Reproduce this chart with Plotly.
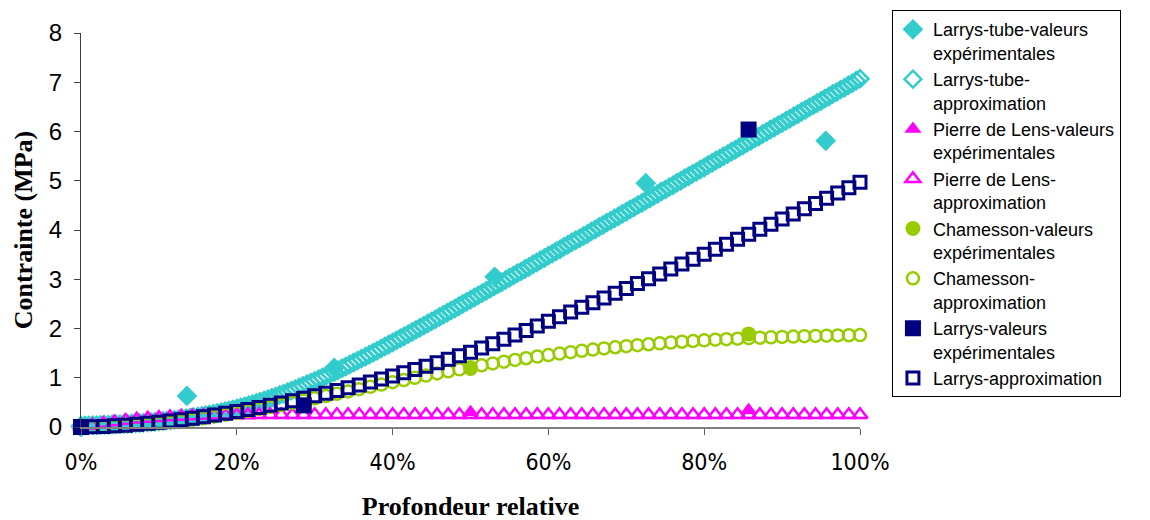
import plotly.graph_objects as go

# ---------------- data ----------------
# Experimental points (relative depth, stress MPa)
tube_exp_x = [0.0, 0.136, 0.325, 0.531, 0.725, 0.956]
tube_exp_y = [0.0, 0.63, 1.20, 3.05, 4.95, 5.81]

pdl_exp_x = [0.0, 0.5, 0.857]
pdl_exp_y = [0.0, 0.30, 0.34]

cham_exp_x = [0.0, 0.143, 0.5, 0.857]
cham_exp_y = [0.0, -0.03, 1.19, 1.89]

larrys_exp_x = [0.0, 0.286, 0.857]
larrys_exp_y = [0.0, 0.44, 6.04]

# Approximation curves
tube_approx_y = [
    0.029, 0.031, 0.033, 0.036, 0.038, 0.041, 0.044, 0.047, 0.050, 0.054,
    0.058, 0.062, 0.066, 0.071, 0.076, 0.081, 0.087, 0.093, 0.099, 0.106,
    0.113, 0.120, 0.129, 0.137, 0.146, 0.156, 0.166, 0.177, 0.188, 0.200,
    0.212, 0.226, 0.239, 0.254, 0.269, 0.285, 0.302, 0.320, 0.338, 0.357,
    0.377, 0.397, 0.419, 0.441, 0.464, 0.488, 0.513, 0.538, 0.564, 0.592,
    0.619, 0.648, 0.677, 0.707, 0.738, 0.769, 0.801, 0.834, 0.867, 0.901,
    0.936, 0.971, 1.006, 1.043, 1.079, 1.116, 1.154, 1.192, 1.230, 1.269,
    1.308, 1.348, 1.388, 1.428, 1.468, 1.509, 1.550, 1.591, 1.633, 1.675,
    1.717, 1.759, 1.801, 1.844, 1.886, 1.929, 1.972, 2.015, 2.058, 2.102,
    2.145, 2.189, 2.233, 2.277, 2.320, 2.364, 2.408, 2.452, 2.496, 2.540,
    2.585, 2.629, 2.673, 2.718, 2.762, 2.806, 2.851, 2.896, 2.940, 2.985,
    3.029, 3.074, 3.12, 3.16, 3.21, 3.25, 3.30, 3.34, 3.39, 3.43,
    3.48, 3.52, 3.57, 3.61, 3.66, 3.70, 3.75, 3.79, 3.83, 3.88,
    3.92, 3.97, 4.01, 4.06, 4.10, 4.15, 4.19, 4.24, 4.28, 4.33,
    4.37, 4.42, 4.46, 4.51, 4.55, 4.60, 4.64, 4.69, 4.73, 4.78,
    4.82, 4.87, 4.91, 4.96, 5.00, 5.05, 5.09, 5.14, 5.18, 5.23,
    5.27, 5.32, 5.36, 5.41, 5.45, 5.50, 5.54, 5.59, 5.63, 5.68,
    5.72, 5.77, 5.81, 5.86, 5.90, 5.95, 5.99, 6.04, 6.08, 6.13,
    6.17, 6.22, 6.26, 6.31, 6.35, 6.40, 6.44, 6.49, 6.53, 6.58,
    6.62, 6.67, 6.71, 6.76, 6.80, 6.85, 6.89, 6.94, 6.98, 7.03,
    7.07,
]
tube_approx_x = [k / (len(tube_approx_y) - 1) for k in range(len(tube_approx_y))]

pdl_approx_y = [
    0.0, 0.035, 0.07, 0.10, 0.13, 0.155, 0.175, 0.19, 0.205, 0.215,
    0.225, 0.232, 0.237, 0.241, 0.244, 0.246, 0.247, 0.248, 0.248, 0.249,
    0.249, 0.249, 0.25, 0.25, 0.25, 0.25, 0.25, 0.25, 0.25, 0.25,
    0.25, 0.25, 0.25, 0.25, 0.25, 0.25, 0.25, 0.25, 0.25, 0.25,
    0.25, 0.25, 0.25, 0.25, 0.25, 0.25, 0.25, 0.25, 0.25, 0.25,
    0.25, 0.25, 0.25, 0.25, 0.25, 0.25, 0.25, 0.25, 0.25, 0.25,
    0.25, 0.25, 0.25, 0.25, 0.25, 0.25, 0.25, 0.25, 0.25, 0.25,
    0.25,
]
cham_approx_y = [
    0.0, 0.002, 0.006, 0.014, 0.025, 0.039, 0.056, 0.076, 0.098, 0.124,
    0.151, 0.181, 0.214, 0.249, 0.285, 0.324, 0.364, 0.405, 0.448, 0.492,
    0.537, 0.582, 0.628, 0.675, 0.722, 0.769, 0.816, 0.862, 0.909, 0.954,
    0.999, 1.044, 1.088, 1.130, 1.172, 1.212, 1.252, 1.290, 1.327, 1.362,
    1.396, 1.429, 1.460, 1.490, 1.519, 1.546, 1.572, 1.596, 1.619, 1.641,
    1.661, 1.680, 1.698, 1.715, 1.731, 1.746, 1.759, 1.772, 1.783, 1.794,
    1.804, 1.813, 1.822, 1.829, 1.836, 1.843, 1.849, 1.854, 1.859, 1.863,
    1.867,
]
larrys_approx_y = [
    0.0, 0.004, 0.011, 0.023, 0.037, 0.055, 0.074, 0.097, 0.122, 0.149,
    0.178, 0.210, 0.244, 0.279, 0.317, 0.357, 0.398, 0.442, 0.487, 0.534,
    0.583, 0.634, 0.687, 0.741, 0.797, 0.855, 0.914, 0.975, 1.037, 1.101,
    1.167, 1.234, 1.303, 1.374, 1.446, 1.519, 1.605, 1.692, 1.781, 1.870,
    1.961, 2.053, 2.146, 2.239, 2.334, 2.429, 2.524, 2.621, 2.717, 2.814,
    2.912, 3.011, 3.109, 3.208, 3.308, 3.407, 3.508, 3.608, 3.709, 3.810,
    3.912, 4.015, 4.117, 4.221, 4.326, 4.431, 4.537, 4.643, 4.751, 4.860,
    4.970,
]
grid70_x = [k / (len(larrys_approx_y) - 1) for k in range(len(larrys_approx_y))]

x_tick_vals = [0, 0.2, 0.4, 0.6, 0.8, 1.0]
x_tick_text = ["0%", "20%", "40%", "60%", "80%", "100%"]
y_tick_vals = [0, 1, 2, 3, 4, 5, 6, 7, 8]

names = [
    "Larrys-tube-valeurs<br>expérimentales",
    "Larrys-tube-<br>approximation",
    "Pierre de Lens-valeurs<br>expérimentales",
    "Pierre de Lens-<br>approximation",
    "Chamesson-valeurs<br>expérimentales",
    "Chamesson-<br>approximation",
    "Larrys-valeurs<br>expérimentales",
    "Larrys-approximation",
]

CYAN = "#33CCCC"
MAG = "#FF00FF"
GREEN = "#99CC00"
NAVY = "#000080"

fig = go.Figure()


def add(x, y, name, symbol, color, size, lw=0):
    marker = dict(symbol=symbol, size=size, color=color, line=dict(color=color, width=lw))
    fig.add_trace(go.Scatter(x=x, y=y, name=name, mode="markers",
                             marker=marker, cliponaxis=False))


add(tube_exp_x, tube_exp_y, names[0], "diamond", CYAN, 16)
add(tube_approx_x, tube_approx_y, names[1], "diamond-open", CYAN, 13, 2.5)
add(pdl_exp_x, pdl_exp_y, names[2], "triangle-up", MAG, 15)
add(grid70_x, pdl_approx_y, names[3], "triangle-up-open", MAG, 13, 2.5)
add(cham_exp_x, cham_exp_y, names[4], "circle", GREEN, 15)
add(grid70_x, cham_approx_y, names[5], "circle-open", GREEN, 12, 2.5)
add(larrys_exp_x, larrys_exp_y, names[6], "square", NAVY, 16)
add(grid70_x, larrys_approx_y, names[7], "square-open", NAVY, 12, 3)

fig.update_layout(
    width=1150, height=520,
    paper_bgcolor="white", plot_bgcolor="white",
    margin=dict(l=73, r=298, t=25, b=101, autoexpand=False),
    font=dict(family="Liberation Sans, Arial", color="black"),
    showlegend=True,
    legend=dict(
        x=1.041, y=1.058, xanchor="left", yanchor="top",
        bordercolor="black", borderwidth=1, bgcolor="white",
        font=dict(family="Liberation Sans, Arial", size=18, color="black"),
        valign="top", tracegroupgap=0, maxheight=500,
    ),
    xaxis=dict(
        range=[0, 1], tickvals=x_tick_vals, ticktext=x_tick_text,
        showgrid=False, zeroline=False,
        showline=True, linecolor="#808080", linewidth=2,
        ticks="outside", ticklen=6, tickcolor="#606060", tickwidth=1,
        tickfont=dict(family="DejaVu Sans Condensed, Liberation Sans", size=23),
        ticklabelstandoff=7,
        title=dict(text="<b>Profondeur relative</b>", standoff=23,
                   font=dict(family="Liberation Serif, Times New Roman", size=26)),
    ),
    yaxis=dict(
        range=[0, 8], tickvals=y_tick_vals,
        showgrid=False, zeroline=False,
        showline=True, linecolor="#404040", linewidth=1,
        ticks="outside", ticklen=6, tickcolor="#404040", tickwidth=1,
        tickfont=dict(family="Liberation Sans, Arial", size=24),
        ticklabelstandoff=7,
        title=dict(text="<b>Contrainte (MPa)</b>", standoff=8,
                   font=dict(family="Liberation Serif, Times New Roman", size=26)),
    ),
)

fig.write_html("out.html")
